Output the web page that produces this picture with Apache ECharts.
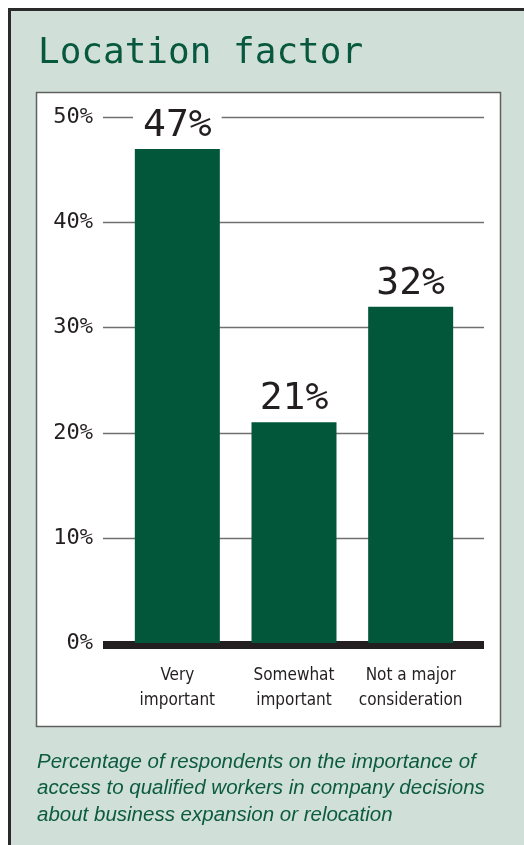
<!DOCTYPE html>
<html>
<head>
<meta charset="utf-8">
<script src="https://cdn.jsdelivr.net/npm/echarts@6/dist/echarts.min.js"></script>
<style>
  html, body { margin: 0; padding: 0; background: #ffffff; }
  #chart { width: 524px; height: 845px; }
</style>
</head>
<body>
<div id="chart"></div>
<script>
// Survey answers and their shares (percent)
const categories = ['Very\nimportant', 'Somewhat\nimportant', 'Not a major\nconsideration'];
const shares = [47, 21, 32];
const tickValues = [0, 10, 20, 30, 40, 50];

const titleText = 'Location factor';
const captionText = 'Percentage of respondents on the importance of\naccess to qualified workers in company decisions\nabout business expansion or relocation';

const green = '#02573b';
const ink = '#231f20';
const digitFont = '"DejaVu Sans Mono", monospace';

const chart = echarts.init(document.getElementById('chart'), null, { renderer: 'canvas' });

chart.setOption({
  animation: false,
  backgroundColor: '#ffffff',
  graphic: [
    // tinted panel with dark top/left rule
    { type: 'rect', z: -10, shape: { x: 8, y: 8, width: 520, height: 840 },
      style: { fill: '#d0e0d8' } },
    { type: 'rect', z: -9, shape: { x: 8, y: 8, width: 520, height: 3 },
      style: { fill: '#2a2a2a' } },
    { type: 'rect', z: -9, shape: { x: 8, y: 8, width: 3, height: 840 },
      style: { fill: '#2a2a2a' } },
    // white chart box
    { type: 'rect', z: -8, shape: { x: 36.5, y: 92.5, width: 464, height: 634 },
      style: { fill: '#ffffff', stroke: '#5f5f5f', lineWidth: 1.5 } },
    { type: 'text', z: 5, left: 38, top: 36,
      style: { text: titleText, font: '36px "DejaVu Sans Mono", monospace', fill: '#07583f' } },
    { type: 'text', z: 5, left: 37, top: 749,
      style: { text: captionText, font: 'italic 20.5px "Liberation Sans", Arial, sans-serif',
               fill: '#0d5a42', lineHeight: 26.5 } }
  ],
  grid: [
    // wide grid: gridlines, percent ticks and heavy baseline
    { left: 103, right: 40, top: 117.5, bottom: 202 },
    // narrower grid holding the bars
    { left: 119, right: 55, top: 117.5, bottom: 202 }
  ],
  xAxis: [
    { gridIndex: 0, type: 'category', data: categories, position: 'bottom', offset: 2,
      axisLine: { onZero: false, lineStyle: { color: ink, width: 8, cap: 'butt' } },
      axisTick: { show: false }, axisLabel: { show: false }, splitLine: { show: false } },
    { gridIndex: 1, type: 'category', data: categories,
      axisLine: { show: false }, axisTick: { show: false },
      axisLabel: { interval: 0, margin: 20, color: ink, fontSize: 17, lineHeight: 25,
        fontFamily: '"Liberation Sans Narrow", "DejaVu Sans Condensed", "Liberation Sans", sans-serif' } }
  ],
  yAxis: [
    { gridIndex: 0, type: 'value', min: 0, max: 50, interval: 10,
      axisLine: { show: false }, axisTick: { show: false },
      axisLabel: { margin: 10, color: ink, fontSize: 22, fontFamily: digitFont,
        formatter: v => tickValues.includes(v) ? v + '%' : '' },
      splitLine: { lineStyle: { color: '#707070', width: 1.3 } } },
    { gridIndex: 1, type: 'value', min: 0, max: 50, interval: 10,
      axisLine: { show: false }, axisTick: { show: false },
      axisLabel: { show: false }, splitLine: { show: false } }
  ],
  series: [{
    type: 'bar',
    xAxisIndex: 1,
    yAxisIndex: 1,
    data: shares,
    barWidth: 85,
    itemStyle: { color: green },
    label: {
      show: true, position: 'top', distance: 4,
      formatter: p => p.value + '%',
      fontFamily: digitFont, fontSize: 38, color: ink,
      backgroundColor: '#ffffff', padding: [0, 10]
    },
    z: 3
  }]
});
</script>
</body>
</html>
